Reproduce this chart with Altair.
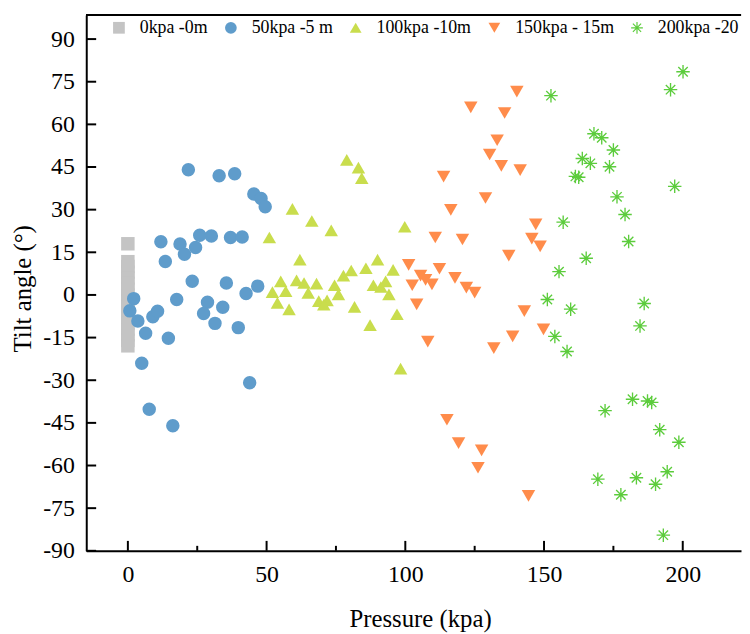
import altair as alt
import pandas as pd

series_names = ["0kpa -0m", "50kpa -5 m", "100kpa -10m", "150kpa - 15m", "200kpa -20 m"]

x0 = [0] * 17
y0 = [18.0, 11.7, 10, 8, 6, 4, 2, 0, -2, -4, -6, -8, -10, -12, -14, -16, -17.9]

x50 = [21.8, 32.9, 38.5, 45.4, 48.0, 49.5, 11.9, 18.8, 20.4, 24.4, 25.9, 30.1, 37.0, 41.2,
       13.5, 23.2, 35.5, 42.6, 46.8, 2.1, 0.7, 3.6, 9.0, 10.7, 17.6, 28.7, 27.3, 34.2, 31.4,
       39.8, 6.4, 14.6, 5.0, 43.9, 7.7, 16.2]
y50 = [44.0, 41.9, 42.6, 35.5, 33.9, 31.0, 18.7, 17.9, 14.3, 16.7, 21.0, 20.7, 20.2, 20.4,
       11.8, 4.8, 4.2, 0.5, 3.1, -1.3, -5.6, -9.2, -7.7, -5.7, -1.6, -2.6, -6.5, -4.3, -10.0,
       -11.5, -13.5, -15.2, -24.0, -30.9, -40.2, -46.0]

x100 = [78.9, 83.1, 84.3, 59.3, 66.3, 73.3, 51.0, 99.8, 62.0, 55.1, 52.1, 56.9, 53.9, 58.1,
        60.8, 63.5, 65.0, 68.0, 68.8, 71.8, 70.6, 74.5, 75.9, 77.7, 80.5, 81.7, 85.8, 90.0,
        88.5, 91.2, 92.9, 95.6, 94.1, 97.0, 87.3, 98.3]
y100 = [47.5, 44.8, 41.1, 30.3, 26.0, 22.7, 20.2, 24.0, 12.4, 4.8, 1.0, 1.3, -2.8, -5.1,
        5.1, 4.2, 0.7, 4.0, -2.2, -1.9, -3.4, 3.4, 0.2, 6.8, 8.6, -4.2, 9.4, 12.4,
        3.4, 2.8, 4.8, 8.8, 0.2, -6.8, -10.6, -25.9]

x150 = [140.2, 123.6, 135.8, 133.1, 130.4, 134.6, 141.4, 113.8, 128.9, 116.4, 110.8, 120.6,
        147.0, 145.6, 148.6, 137.3, 101.2, 105.5, 107.3, 102.5, 109.6, 112.3, 117.9, 122.0,
        125.0, 104.1, 108.1, 131.9, 138.7, 142.9, 149.8, 115.0, 119.2, 127.5, 126.2, 144.4]
y150 = [71.5, 66.0, 64.0, 54.4, 49.4, 45.4, 43.9, 41.6, 34.1, 29.9, 20.2, 19.5,
        24.8, 19.8, 17.1, 13.8, 10.6, 6.8, 5.3, 3.4, 3.7, 9.2, 6.0, 2.6,
        0.8, -3.3, -16.4, -18.7, -14.6, -5.7, -12.1, -43.9, -52.1, -54.7, -60.8, -70.7]

x200 = [200.1, 195.6, 152.5, 168.0, 170.8, 175.0, 163.8, 166.7, 173.6, 161.3, 162.5, 197.1,
        176.3, 179.2, 156.9, 180.5, 165.2, 155.4, 151.2, 159.6, 186.1, 184.6, 153.9, 158.3,
        172.0, 181.9, 187.3, 188.8, 191.7, 198.6, 194.4, 190.2, 183.3, 169.4, 177.7, 193.0]
y200 = [78.5, 72.2, 70.1, 56.7, 55.3, 51.0, 48.0, 46.3, 45.1, 41.7, 41.4, 38.2,
        34.5, 28.3, 25.6, 18.8, 12.9, 8.2, -1.6, -5.0, -3.0, -10.9, -14.6, -19.9,
        -40.7, -36.7, -37.3, -37.8, -47.4, -51.8, -62.2, -66.6, -64.3, -64.8, -70.3, -84.5]

x_tick_values = [0, 50, 100, 150, 200]
x_minor_values = [25, 75, 125, 175]
y_tick_values = [-90, -75, -60, -45, -30, -15, 0, 15, 30, 45, 60, 75, 90]

colors = ["#c4c4c4", "#5f9ccb", "#c9dd4d", "#ff8c4b", "#5ccc3c"]
# asterisk built from four thin filled bars (same winding, so overlaps stay filled)
asterisk = ("M-0.1,-1H0.1V1H-0.1Z"
            "M-1,-0.1H1V0.1H-1Z"
            "M-0.63,-0.77L0.77,0.63L0.63,0.77L-0.77,-0.63Z"
            "M-0.63,0.77L-0.77,0.63L0.63,-0.77L0.77,-0.63Z")
shapes = ["square", "circle", "triangle-up", "triangle-down", asterisk]

rows = []
for name, xs, ys in zip(series_names, [x0, x50, x100, x150, x200], [y0, y50, y100, y150, y200]):
    for a, b in zip(xs, ys):
        rows.append({"Pressure": a, "Tilt": b, "Series": name})
df = pd.DataFrame(rows)

W, H = 661, 541
XDOM = [-15, 221]
YDOM = [-90, 98.5]
FONT = "Liberation Serif"
LBL = "datum.value < 0 ? '-' + abs(datum.value) : '' + datum.value"

xscale = alt.Scale(domain=XDOM, nice=False, zero=False)
yscale = alt.Scale(domain=YDOM, nice=False, zero=False)

xaxis = alt.Axis(values=x_tick_values, title="Pressure (kpa)", ticks=False, grid=False,
                 labelFont=FONT, labelFontSize=24, labelExpr=LBL, labelColor="black",
                 labelPadding=12, titleX=337, titleY=76, titleBaseline="alphabetic")
yaxis = alt.Axis(values=y_tick_values, title="Tilt angle (°)", ticks=False, grid=False,
                 labelFont=FONT, labelFontSize=24, labelExpr=LBL, labelColor="black",
                 labelPadding=12, titleX=-56, titleY=276, titleBaseline="alphabetic",
                 titleAngle=270)

leg = alt.Legend(title=None, orient="none", direction="horizontal", legendX=24, legendY=4,
                 labelFont=FONT, labelFontSize=18, labelColor="black", labelOffset=12,
                 columnPadding=14, padding=0, symbolSize=140, symbolOpacity=1)

points = alt.Chart(df).mark_point(filled=True, opacity=1, size=185).encode(
    x=alt.X("Pressure:Q", scale=xscale, axis=xaxis),
    y=alt.Y("Tilt:Q", scale=yscale, axis=yaxis),
    color=alt.Color("Series:N", scale=alt.Scale(domain=series_names, range=colors), legend=leg),
    shape=alt.Shape("Series:N", scale=alt.Scale(domain=series_names, range=shapes), legend=leg),
)

ytick_df = pd.DataFrame({"Tilt": y_tick_values})
xtick_df = pd.DataFrame({"Pressure": x_tick_values})
xminor_df = pd.DataFrame({"Pressure": x_minor_values})

yticks = alt.Chart(ytick_df).mark_rule(color="black", strokeWidth=2).encode(
    y=alt.Y("Tilt:Q", scale=yscale, axis=yaxis),
    x=alt.value(0), x2=alt.value(10))
xticks = alt.Chart(xtick_df).mark_rule(color="black", strokeWidth=2).encode(
    x=alt.X("Pressure:Q", scale=xscale, axis=xaxis),
    y=alt.value(H), y2=alt.value(H - 10))
xminor = alt.Chart(xminor_df).mark_rule(color="black", strokeWidth=2).encode(
    x=alt.X("Pressure:Q", scale=xscale, axis=xaxis),
    y=alt.value(H), y2=alt.value(H - 5))
topline = alt.Chart(ytick_df).mark_rule(color="black", strokeWidth=2).encode(
    x=alt.value(0), x2=alt.value(W), y=alt.value(0))

chart = alt.layer(points, yticks, xticks, xminor, topline).properties(
    width=W, height=H,
    autosize=alt.AutoSizeParams(type="none"),
    padding={"left": 79, "top": 4, "right": 1, "bottom": 80},
    background="white",
).configure_view(stroke=None).configure_axis(
    labelFont=FONT, titleFont=FONT, titleFontSize=25, titleFontWeight="normal",
    titleColor="black", domainColor="black", domainWidth=2,
)

chart.save("out.html", embed_options={"renderer": "svg", "actions": False})
